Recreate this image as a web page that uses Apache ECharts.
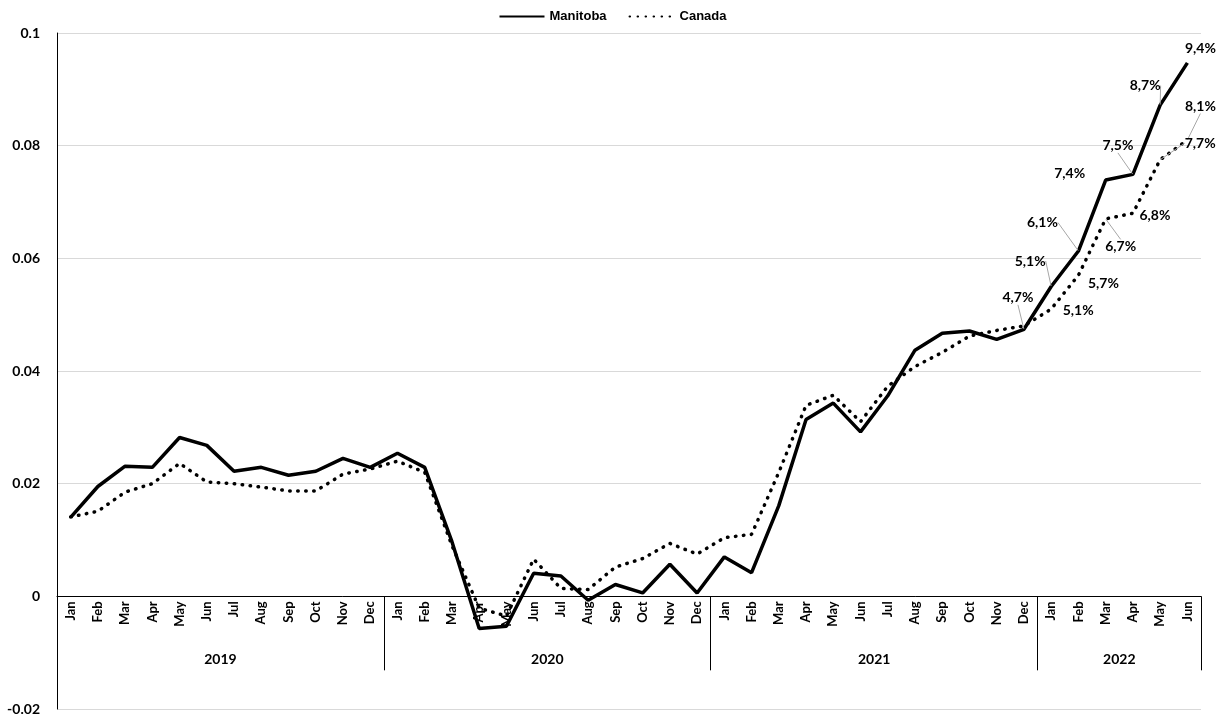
<!DOCTYPE html>
<html>
<head>
<meta charset="utf-8">
<script src="https://cdn.jsdelivr.net/npm/echarts@6/dist/echarts.min.js"></script>
<style>
  html, body { margin: 0; padding: 0; background: #fff; }
  #chart { width: 1225px; height: 719px; }
</style>
</head>
<body>
<div id="chart"></div>
<script>
const months = ['Jan', 'Feb', 'Mar', 'Apr', 'May', 'Jun', 'Jul', 'Aug', 'Sep', 'Oct', 'Nov', 'Dec'];
const years = ['2019', '2020', '2021', '2022'];
const monthsPerYear = [12, 12, 12, 6];

const manitoba = [
  0.014, 0.0195, 0.0231, 0.0229, 0.0282, 0.0268, 0.0222, 0.0229, 0.0215, 0.0222, 0.0245, 0.0229,
  0.0254, 0.0229, 0.0097, -0.0057, -0.0053, 0.0041, 0.0036, -0.0007, 0.0021, 0.0006, 0.0057, 0.0006,
  0.007, 0.0042, 0.0161, 0.0314, 0.0343, 0.0292, 0.0356, 0.0437, 0.0467, 0.0471, 0.0456, 0.0474,
  0.055, 0.0613, 0.0739, 0.0749, 0.0872, 0.0947
];
const canada = [
  0.0141, 0.0151, 0.0185, 0.02, 0.0236, 0.0203, 0.02, 0.0194, 0.0187, 0.0187, 0.0217, 0.0226,
  0.024, 0.022, 0.009, -0.0021, -0.0035, 0.0066, 0.0014, 0.0012, 0.0052, 0.0067, 0.0094, 0.0075,
  0.0104, 0.011, 0.022, 0.0339, 0.0357, 0.031, 0.0373, 0.0408, 0.0433, 0.0462, 0.0472, 0.048,
  0.051, 0.057, 0.067, 0.068, 0.0775, 0.081
];

// data labels shown on the last points (index -> text)
const manitobaLabels = { 35: '4,7%', 36: '5,1%', 37: '6,1%', 38: '7,4%', 39: '7,5%', 40: '8,7%', 41: '9,4%' };
const canadaLabels = { 36: '5,1%', 37: '5,7%', 38: '6,7%', 39: '6,8%', 40: '7,7%', 41: '8,1%' };

// label shifts [dx, dy, leader line?]
const manitobaShift = {
  35: [-6, -19, true], 36: [-21, -13, true], 37: [-36, -16, true], 38: [-36, 6, false],
  39: [-15, -16, true], 40: [-15, -7, true], 41: [13, -2, false]
};
const canadaShift = {
  36: [27, 14, false], 37: [25, 21, false], 38: [15, 40, true], 39: [22, 15, false],
  40: [40, -4, true], 41: [13, -21, true]
};

const categories = [];
years.forEach((y, i) => {
  for (let m = 0; m < monthsPerYear[i]; m++) categories.push(months[m] + ' ' + y);
});

// year boundaries and centres on a 0..n scale matching the category bands
const yearEdges = [0];
const yearMids = [];
monthsPerYear.forEach(n => {
  const start = yearEdges[yearEdges.length - 1];
  yearMids.push(start + n / 2);
  yearEdges.push(start + n);
});

const labelFont = { fontFamily: 'Lato', fontWeight: 'bold', color: '#000' };

function buildData(values, labels, shifts) {
  return values.map((v, i) => {
    if (!labels[i]) return v;
    return {
      value: v,
      label: { show: true, formatter: labels[i], fontSize: 14, ...labelFont },
      labelLine: { show: shifts[i][2] }
    };
  });
}

const W = 1225, H = 719;
const grid = { left: 57, right: 24, top: 33, bottom: 10 };
const yMin = -0.02, yMax = 0.1;
// category axis sits at y = 0, measured up from the grid bottom
const zeroOffset = -(H - grid.top - grid.bottom) * (0 - yMin) / (yMax - yMin);

const chart = echarts.init(document.getElementById('chart'));

const option = {
  animation: false,
  legend: {
    top: 5,
    left: 'center',
    itemWidth: 45,
    itemHeight: 10,
    itemGap: 22,
    textStyle: { fontFamily: 'Liberation Sans', fontWeight: 'bold', fontSize: 13, color: '#000' },
    data: ['Manitoba', 'Canada']
  },
  grid: { ...grid, outerBoundsMode: 'none' },
  xAxis: [
    {
      type: 'category',
      data: categories,
      position: 'bottom',
      offset: zeroOffset,
      boundaryGap: true,
      axisLine: { onZero: false, lineStyle: { color: '#000', width: 1 } },
      axisTick: { show: false },
      axisLabel: {
        interval: 0,
        rotate: 90,
        margin: 5,
        fontSize: 13,
        ...labelFont,
        formatter: v => v.split(' ')[0]
      },
      splitLine: { show: false }
    },
    {
      type: 'value',
      min: 0,
      max: categories.length,
      position: 'bottom',
      offset: zeroOffset,
      axisLine: { show: false, onZero: false },
      axisTick: {
        show: true,
        customValues: yearEdges,
        length: 74,
        lineStyle: { color: '#000', width: 1 }
      },
      axisLabel: {
        customValues: yearMids,
        margin: 56,
        fontSize: 14,
        ...labelFont,
        formatter: v => years[yearMids.indexOf(v)]
      },
      splitLine: { show: false }
    }
  ],
  yAxis: {
    type: 'value',
    min: yMin,
    max: yMax,
    interval: 0.02,
    axisLine: { show: true, onZero: false, lineStyle: { color: '#000', width: 1 } },
    axisTick: { show: false },
    axisLabel: { margin: 17, fontSize: 14, ...labelFont },
    splitLine: { lineStyle: { color: '#d9d9d9', width: 1 } }
  },
  series: [
    {
      name: 'Manitoba',
      type: 'line',
      xAxisIndex: 0,
      data: buildData(manitoba, manitobaLabels, manitobaShift),
      symbol: 'circle',
      symbolSize: 1,
      lineStyle: { color: '#000', width: 3.5 },
      itemStyle: { color: 'rgba(0,0,0,0)' },
      label: { show: false, position: 'top', distance: 5, fontSize: 14, ...labelFont },
      labelLine: { show: true, lineStyle: { color: '#a6a6a6', width: 1 } },
      labelLayout: p => {
        const s = manitobaShift[p.dataIndex];
        return s ? { dx: s[0], dy: s[1] } : {};
      },
      z: 3
    },
    {
      name: 'Canada',
      type: 'line',
      xAxisIndex: 0,
      data: buildData(canada, canadaLabels, canadaShift),
      symbol: 'circle',
      symbolSize: 1,
      lineStyle: { color: '#000', width: 3.5, type: [0.5, 7.5], cap: 'round' },
      itemStyle: { color: 'rgba(0,0,0,0)' },
      label: { show: false, position: 'top', distance: 5, fontSize: 14, ...labelFont },
      labelLine: { show: true, lineStyle: { color: '#a6a6a6', width: 1 } },
      labelLayout: p => {
        const s = canadaShift[p.dataIndex];
        return s ? { dx: s[0], dy: s[1] } : {};
      },
      z: 2
    }
  ]
};

chart.setOption(option);
</script>
</body>
</html>
